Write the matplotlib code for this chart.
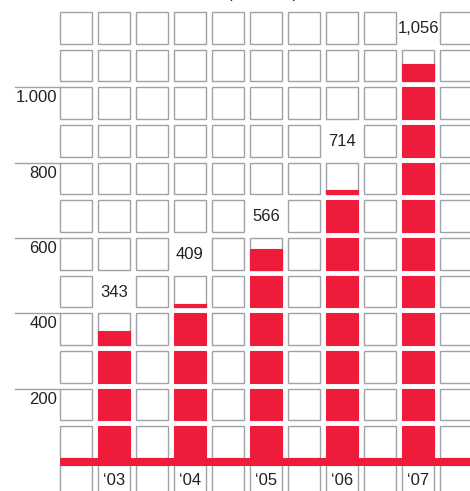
import matplotlib
matplotlib.use("Agg")
import matplotlib.pyplot as plt
from matplotlib.patches import Rectangle

plt.rcParams["font.family"] = ["Liberation Sans", "DejaVu Sans"]

# data
years = ["\u201803", "\u201804", "\u201805", "\u201806", "\u201807"]
values = [343, 409, 566, 714, 1056]
value_labels = ["343", "409", "566", "714", "1,056"]
bar_columns = [1, 3, 5, 7, 9]
tick_values = [200, 400, 600, 800, 1000]
tick_labels = ["200", "400", "600", "800", "1.000"]
title = "(US$ mn)"

RED = "#EE1B3B"
GRAY = "#9EA3A7"
N_COLS = 11
N_ROWS = 12
STEP = 100          # value per cell
CELL_W = 0.842      # column units
GAP_Y = 16          # value units between rows

fig = plt.figure(figsize=(4.70, 4.91), dpi=100)
ax = fig.add_axes([0, 0, 1, 1])
ax.set_xlim(-2.0, 10.368)
ax.set_ylim(-79.6, 1223.8)
ax.axis("off")

bars = {c: (v, lab) for c, v, lab in zip(bar_columns, values, value_labels)}
cell_h = STEP - GAP_Y

for c in range(N_COLS):
    x0 = c - CELL_W / 2
    v, lab = bars.get(c, (None, None))
    for k in range(N_ROWS):
        y0 = k * STEP + GAP_Y / 2
        if v is not None:
            full = int(v // STEP)
            if k < full:
                ax.add_patch(Rectangle((x0, y0), CELL_W, cell_h, facecolor=RED,
                                       edgecolor=RED, lw=0.8))
                continue
            if k == full:
                frac = (v - full * STEP) / STEP
                ax.add_patch(Rectangle((x0, y0), CELL_W, cell_h, facecolor="white",
                                       edgecolor=GRAY, lw=1.0))
                ax.add_patch(Rectangle((x0, y0), CELL_W, cell_h * frac, facecolor=RED,
                                       edgecolor=RED, lw=0.8))
                continue
            if k == full + 1:
                ax.text(c, k * STEP + STEP / 2 - 14, lab, ha="center", va="baseline",
                        fontsize=12, color="#222222")
                continue
        ax.add_patch(Rectangle((x0, y0), CELL_W, cell_h, facecolor="white",
                               edgecolor=GRAY, lw=1.0))
    # label row under the baseline
    ax.add_patch(Rectangle((x0, -300), CELL_W, 290, facecolor="white",
                           edgecolor=GRAY, lw=1.0))

for c, yr in zip(bar_columns, years):
    ax.text(c, -64, yr, ha="center", va="baseline", fontsize=12, color="#222222")

# baseline bar
ax.add_patch(Rectangle((-CELL_W / 2, -13), N_COLS, 21, facecolor=RED, edgecolor="none",
                       zorder=3))

# y tick lines and labels
for tv, tl in zip(tick_values, tick_labels):
    yl = tv - GAP_Y / 2
    ax.plot([-1.605, -CELL_W / 2], [yl, yl], color=GRAY, lw=1.0)
    ax.text(-0.5, yl - 40, tl, ha="right", va="baseline", fontsize=12, color="#222222")

# title sits mostly above the top edge, as in the source crop
ax.text(4.92, 1229, title, ha="center", va="baseline", fontsize=12, color="#222222")

fig.savefig("out.png", dpi=100)
